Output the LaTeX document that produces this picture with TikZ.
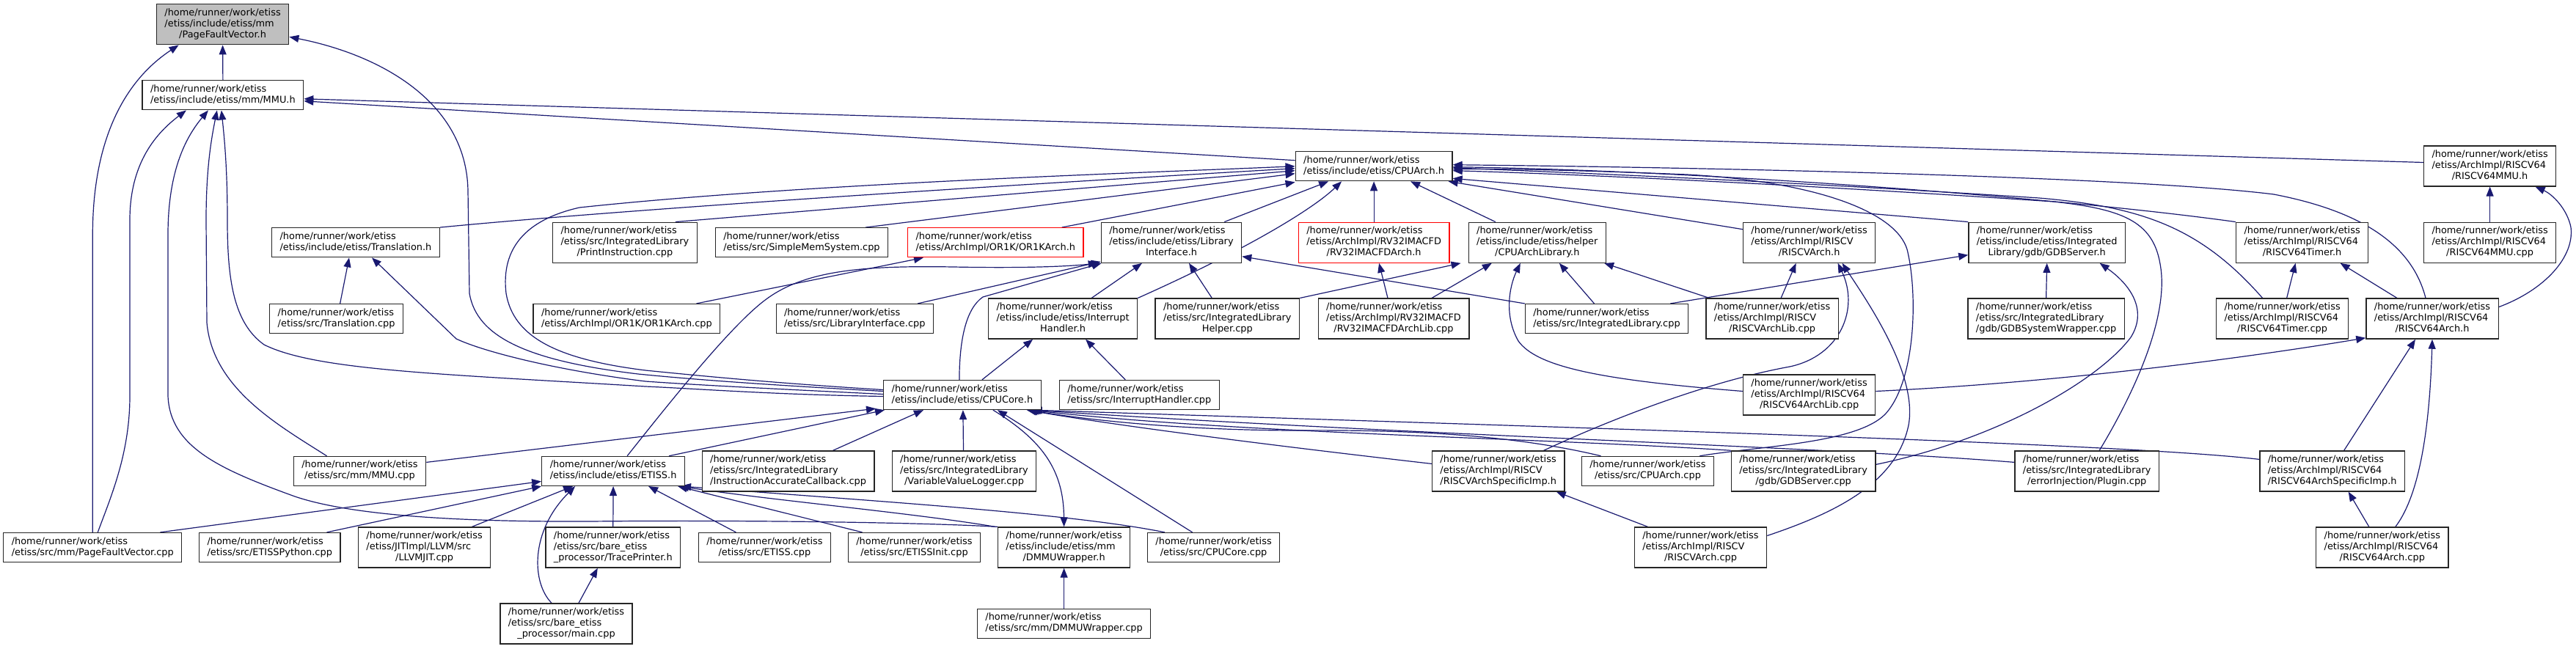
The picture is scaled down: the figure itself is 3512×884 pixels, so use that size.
\documentclass[tikz,border=0pt]{standalone}
\usepackage{fontspec}
\setmainfont{DejaVu Sans}
\usetikzlibrary{arrows.meta,backgrounds}
\definecolor{edgec}{HTML}{191970}
\definecolor{grayfill}{HTML}{BFBFBF}
\newcommand\hrw{/home/runner/work/etiss}
\newcommand\lbltwo[1]{\begin{tabular}{@{}l@{}}\hrw\\\multicolumn{1}{@{}c@{}}{#1}\end{tabular}}
\newcommand\lblthree[2]{\begin{tabular}{@{}l@{}}\hrw\\#1\\\multicolumn{1}{@{}c@{}}{#2}\end{tabular}}
\tikzset{
  box/.style={draw=black!85, line width=1.3pt, fill=white, inner xsep=11pt, inner ysep=5pt,
    font=\fontsize{12.9}{15}\selectfont},
  redbox/.style={box, draw=red},
  edge/.style={draw=edgec, line width=1.2pt, -{Triangle[length=13pt,width=10pt]}}
}
\begin{document}
\begin{tikzpicture}[x=1pt,y=-1pt]
\useasboundingbox (0,0) rectangle (3512,884);
% ---- nodes ----
\node[box,fill=grayfill] (PFVh) at (303.6,33.3) {\lblthree{/etiss/include/etiss/mm}{/PageFaultVector.h}};
\node[box] (MMUh) at (303.9,129.8) {\lbltwo{/etiss/include/etiss/mm/MMU.h}};
\node[box] (CPUArchh) at (1873.1,226.7) {\lbltwo{/etiss/include/etiss/CPUArch.h}};
\node[box] (R64MMUh) at (3394.6,226.5) {\lblthree{/etiss/ArchImpl/RISCV64}{/RISCV64MMU.h}};
% row 3
\node[box] (Transh) at (485,330.7) {\lbltwo{/etiss/include/etiss/Translation.h}};
\node[box] (PrintInst) at (851.9,330.7) {\lblthree{/etiss/src/IntegratedLibrary}{/PrintInstruction.cpp}};
\node[box] (SimpleMem) at (1093,330.7) {\lbltwo{/etiss/src/SimpleMemSystem.cpp}};
\node[redbox] (OR1Kh) at (1357.3,330.7) {\lbltwo{/etiss/ArchImpl/OR1K/OR1KArch.h}};
\node[box] (LibIfh) at (1597,330.7) {\lblthree{/etiss/include/etiss/Library}{Interface.h}};
\node[redbox] (RV32h) at (1873.1,330.7) {\lblthree{/etiss/ArchImpl/RV32IMACFD}{/RV32IMACFDArch.h}};
\node[box] (CALh) at (2095.8,330.7) {\lblthree{/etiss/include/etiss/helper}{/CPUArchLibrary.h}};
\node[box] (RVh) at (2466.6,330.7) {\lblthree{/etiss/ArchImpl/RISCV}{/RISCVArch.h}};
\node[box] (GDBh) at (2790.7,330.7) {\lblthree{/etiss/include/etiss/Integrated}{Library/gdb/GDBServer.h}};
\node[box] (R64Timerh) at (3138.6,330.7) {\lblthree{/etiss/ArchImpl/RISCV64}{/RISCV64Timer.h}};
\node[box] (R64MMUcpp) at (3394.6,330.7) {\lblthree{/etiss/ArchImpl/RISCV64}{/RISCV64MMU.cpp}};
% row 4
\node[box] (Transcpp) at (458.6,434.6) {\lbltwo{/etiss/src/Translation.cpp}};
\node[box] (OR1Kcpp) at (854.4,434.6) {\lbltwo{/etiss/ArchImpl/OR1K/OR1KArch.cpp}};
\node[box] (LibIfcpp) at (1165.3,434.6) {\lbltwo{/etiss/src/LibraryInterface.cpp}};
\node[box] (IHh) at (1449.1,434.6) {\lblthree{/etiss/include/etiss/Interrupt}{Handler.h}};
\node[box] (ILHelper) at (1673.3,434.6) {\lblthree{/etiss/src/IntegratedLibrary}{Helper.cpp}};
\node[box] (RV32Lib) at (1900,434.6) {\lblthree{/etiss/ArchImpl/RV32IMACFD}{/RV32IMACFDArchLib.cpp}};
\node[box] (ILcpp) at (2190.5,434.6) {\lbltwo{/etiss/src/IntegratedLibrary.cpp}};
\node[box] (RVLib) at (2416.1,434.6) {\lblthree{/etiss/ArchImpl/RISCV}{/RISCVArchLib.cpp}};
\node[box] (GDBSW) at (2789.6,434.6) {\lblthree{/etiss/src/IntegratedLibrary}{/gdb/GDBSystemWrapper.cpp}};
\node[box] (R64Timercpp) at (3111.6,434.6) {\lblthree{/etiss/ArchImpl/RISCV64}{/RISCV64Timer.cpp}};
\node[box] (R64Archh) at (3316,434.6) {\lblthree{/etiss/ArchImpl/RISCV64}{/RISCV64Arch.h}};
% row 5
\node[box] (CPUCoreh) at (1311.9,538.5) {\lbltwo{/etiss/include/etiss/CPUCore.h}};
\node[box] (IHcpp) at (1553.3,538.5) {\lbltwo{/etiss/src/InterruptHandler.cpp}};
\node[box] (R64Lib) at (2466.6,538.5) {\lblthree{/etiss/ArchImpl/RISCV64}{/RISCV64ArchLib.cpp}};
% row 6
\node[box] (MMUcpp) at (490.5,642.4) {\lbltwo{/etiss/src/mm/MMU.cpp}};
\node[box] (ETISSh) at (836.1,642.4) {\lbltwo{/etiss/include/etiss/ETISS.h}};
\node[box] (IACcpp) at (1074.6,642.4) {\lblthree{/etiss/src/IntegratedLibrary}{/InstructionAccurateCallback.cpp}};
\node[box] (VVLcpp) at (1314.5,642.4) {\lblthree{/etiss/src/IntegratedLibrary}{/VariableValueLogger.cpp}};
\node[box] (RVSIh) at (2042.7,642.4) {\lblthree{/etiss/ArchImpl/RISCV}{/RISCVArchSpecificImp.h}};
\node[box] (CPUArchcpp) at (2246.5,642.4) {\lbltwo{/etiss/src/CPUArch.cpp}};
\node[box] (GDBcpp) at (2458.6,642.4) {\lblthree{/etiss/src/IntegratedLibrary}{/gdb/GDBServer.cpp}};
\node[box] (Plugin) at (2845.2,642.4) {\lblthree{/etiss/src/IntegratedLibrary}{/errorInjection/Plugin.cpp}};
\node[box] (R64SIh) at (3179.7,642.4) {\lblthree{/etiss/ArchImpl/RISCV64}{/RISCV64ArchSpecificImp.h}};
% row 7
\node[box] (PFVcpp) at (126.3,746.5) {\lbltwo{/etiss/src/mm/PageFaultVector.cpp}};
\node[box] (ETISSPy) at (367.7,746.5) {\lbltwo{/etiss/src/ETISSPython.cpp}};
\node[box] (LLVMJIT) at (578.6,746.5) {\lblthree{/etiss/JITImpl/LLVM/src}{/LLVMJIT.cpp}};
\node[box] (TraceP) at (835.8,746.5) {\lblthree{/etiss/src/bare\_etiss}{\_processor/TracePrinter.h}};
\node[box] (ETISScpp) at (1042.4,746.5) {\lbltwo{/etiss/src/ETISS.cpp}};
\node[box] (ETISSInit) at (1246.5,746.5) {\lbltwo{/etiss/src/ETISSInit.cpp}};
\node[box] (DMMUh) at (1450.6,746.5) {\lblthree{/etiss/include/etiss/mm}{/DMMUWrapper.h}};
\node[box] (CPUCorecpp) at (1654.6,746.5) {\lbltwo{/etiss/src/CPUCore.cpp}};
\node[box] (RVArchcpp) at (2318.5,746.5) {\lblthree{/etiss/ArchImpl/RISCV}{/RISCVArch.cpp}};
\node[box] (R64Archcpp) at (3247.8,746.5) {\lblthree{/etiss/ArchImpl/RISCV64}{/RISCV64Arch.cpp}};
% row 8
\node[box] (maincpp) at (772,850.4) {\lblthree{/etiss/src/bare\_etiss}{\_processor/main.cpp}};
\node[box] (DMMUcpp) at (1450.6,850.4) {\lbltwo{/etiss/src/mm/DMMUWrapper.cpp}};
% ---- edges ----
\begin{pgfonlayer}{background}
\fill[white] (0,0) rectangle (3512,884);
% PageFaultVector.h
\draw[edge] (MMUh.north) -- (PFVh.south);
\draw[edge] (PFVcpp.north) -- (126.3,320) .. controls (126.3,190) and (170,110) .. ([xshift=-60pt]PFVh.south);
\draw[edge] ([yshift=5pt]CPUCoreh.west) .. controls (1050,525) and (950,518) .. (870,510) .. controls (720,492) and (650,460) .. (640,400) -- (638,260) .. controls (636,140) and (520,75) .. ([yshift=-17pt]PFVh.east);
% MMU.h
\draw[edge] ([xshift=7pt]PFVcpp.north) .. controls (150,680) and (177,620) .. (177,540) -- (177,300) .. controls (177,220) and (215,180) .. ([xshift=-50pt]MMUh.south);
\draw[edge] (DMMUh.north west) .. controls (1250,712) and (1000,709) .. (804,711) .. controls (600,712) and (470,700) .. (402,677) .. controls (300,640) and (232,610) .. (229,540) -- (229,320) .. controls (229,230) and (255,185) .. ([xshift=-20pt]MMUh.south);
\draw[edge] ([xshift=-45pt]MMUcpp.north) .. controls (380,580) and (290,530) .. (282,440) -- (281,300) .. controls (281,230) and (288,190) .. ([xshift=-8pt]MMUh.south);
\draw[edge] ([yshift=-2pt]CPUCoreh.west) .. controls (1050,538) and (950,530) .. (880,527) .. controls (600,510) and (430,505) .. (360,470) .. controls (318,440) and (310,380) .. (310,300) .. controls (310,230) and (306,190) .. ([xshift=-2pt]MMUh.south);
\draw[edge] ([yshift=5pt]R64MMUh.west) -- ([yshift=-5pt]MMUh.east);
\draw[edge] ([yshift=8pt]CPUArchh.west) -- ([yshift=-8pt]MMUh.east);
% CPUArch.h
\draw[edge] (Transh.north east) .. controls (900,281) and (1500,245) .. ([yshift=-3pt]CPUArchh.west);
\draw[edge] ([yshift=7pt]CPUCoreh.west) .. controls (1050,522) and (950,512) .. (880,505) .. controls (760,490) and (700,460) .. (690,400) .. controls (683,340) and (715,300) .. (790,283) .. controls (1100,250) and (1550,236) .. (CPUArchh.west);
\draw[edge] ([xshift=-30pt]PrintInst.north east) -- ([yshift=-6pt]CPUArchh.west);
\draw[edge] ([xshift=-31pt]SimpleMem.north east) -- ([yshift=-10pt]CPUArchh.west);
\draw[edge] ([xshift=-30pt]OR1Kh.north east) -- ([yshift=-1pt]CPUArchh.south west);
\draw[edge] ([xshift=-24pt]LibIfh.north east) -- ([xshift=-62pt]CPUArchh.south);
\draw[edge] (IHh.north east) .. controls (1700,340) and (1790,285) .. ([xshift=-44pt]CPUArchh.south);
\draw[edge] (RV32h.north) -- (CPUArchh.south);
\draw[edge] ([xshift=-57pt]CALh.north) -- ([xshift=50pt]CPUArchh.south);
\draw[edge] ([yshift=18pt]RVh.west) -- ([xshift=-6pt]CPUArchh.south east);
\draw[edge] (GDBh.north west) -- ([yshift=4pt]CPUArchh.south east);
\draw[edge] ([xshift=-20pt]CPUArchcpp.north east) .. controls (2400,608) and (2530,605) .. (2570,565) .. controls (2612,520) and (2615,400) .. (2600,340) .. controls (2585,290) and (2480,248) .. (2300,238) .. controls (2150,232) and (2050,230) .. ([yshift=-4pt]CPUArchh.east);
\draw[edge] (R64Timerh.north west) .. controls (2800,268) and (2300,232) .. ([yshift=-1pt]CPUArchh.east);
\draw[edge] ([xshift=-27pt]R64Timercpp.north) .. controls (3000,310) and (2920,282) .. (2780,270) .. controls (2400,245) and (2100,234) .. ([yshift=-2pt]CPUArchh.east);
\draw[edge] ([xshift=17pt]Plugin.north) .. controls (2895,560) and (2960,440) .. (2945,360) .. controls (2935,300) and (2890,285) .. (2800,275) .. controls (2400,248) and (2100,236) .. ([yshift=-6pt]CPUArchh.east);
\draw[edge] ([xshift=-9pt]R64Archh.north) .. controls (3290,340) and (3230,290) .. (3100,265) .. controls (2900,240) and (2300,228) .. ([yshift=2pt]CPUArchh.east);
% LibraryInterface.h
\draw[edge] ([xshift=19pt]ETISSh.north) .. controls (920,540) and (1000,440) .. (1046,407) .. controls (1100,368) and (1180,362) .. (1300,364) .. controls (1400,366) and (1460,363) .. ([xshift=-4pt]LibIfh.south west);
\draw[edge] ([xshift=-22pt]LibIfcpp.north east) -- ([yshift=2pt]LibIfh.south west);
\draw[edge] ([xshift=-4pt]CPUCoreh.north) .. controls (1308,460) and (1318,420) .. (1340,405) -- ([xshift=1pt]LibIfh.south west);
\draw[edge] ([xshift=39pt]IHh.north) -- ([xshift=-40pt]LibIfh.south);
\draw[edge] ([xshift=-21pt]ILHelper.north) -- ([xshift=24pt]LibIfh.south);
\draw[edge] (ILcpp.north west) -- ([yshift=-19pt]LibIfh.east);
% OR1KArch.h
\draw[edge] ([xshift=-33pt]OR1Kcpp.north east) -- ([xshift=22pt]OR1Kh.south west);
% CPUArchLibrary.h
\draw[edge] (ILHelper.north east) -- ([xshift=-10pt]CALh.south west);
\draw[edge] ([xshift=52pt]RV32Lib.north) -- ([xshift=-62pt]CALh.south);
\draw[edge] ([xshift=-8pt]RV32Lib.north) -- ([xshift=7pt]RV32h.south);
\draw[edge] ([xshift=-17pt]ILcpp.north) -- ([xshift=30pt]CALh.south);
\draw[edge] ([xshift=5pt]RVLib.north west) -- ([xshift=-3pt]CALh.south east);
\draw[edge] ([yshift=5pt]R64Lib.west) .. controls (2180,518) and (2095,500) .. (2070,465) .. controls (2050,430) and (2058,390) .. ([xshift=-23pt]CALh.south);
% RISCVArch.h
\draw[edge] ([xshift=12pt]RVLib.north) -- ([xshift=-18pt]RVh.south);
\draw[edge] ([xshift=62pt]RVSIh.north) .. controls (2200,570) and (2330,520) .. (2440,500) .. controls (2510,485) and (2535,420) .. ([xshift=39pt]RVh.south);
\draw[edge] ([yshift=16pt]RVArchcpp.east) .. controls (2500,700) and (2585,660) .. (2602,580) .. controls (2615,510) and (2545,410) .. ([xshift=45pt]RVh.south);
\draw[edge] ([xshift=-72pt]RVArchcpp.north) -- ([xshift=79pt]RVSIh.south);
% GDBServer.h
\draw[edge] (GDBSW.north) -- (GDBh.south);
\draw[edge] ([yshift=9pt]GDBcpp.east) .. controls (2720,600) and (2860,520) .. (2905,460) .. controls (2930,420) and (2900,385) .. ([xshift=72pt]GDBh.south);
\draw[edge] ([xshift=-25pt]ILcpp.north east) -- ([yshift=-17pt]GDBh.west);
% RISCV64Timer.h / RISCV64MMU.h / RISCV64Arch.h
\draw[edge] ([xshift=6pt]R64Timercpp.north) -- ([xshift=-9pt]R64Timerh.south);
\draw[edge] ([xshift=-48pt]R64Archh.north) -- ([xshift=52pt]R64Timerh.south);
\draw[edge] (R64MMUcpp.north) -- (R64MMUh.south);
\draw[edge] ([yshift=16pt]R64Archh.east) .. controls (3470,395) and (3510,350) .. (3505,310) .. controls (3500,285) and (3480,265) .. ([xshift=62pt]R64MMUh.south);
\draw[edge] ([yshift=5pt]R64Lib.east) .. controls (2800,522) and (3050,490) .. ([yshift=2pt]R64Archh.south west);
\draw[edge] ([xshift=16pt]R64SIh.north) -- ([xshift=-23pt]R64Archh.south);
\draw[edge] ([xshift=18pt]R64Archcpp.north) .. controls (3295,680) and (3312,600) .. (R64Archh.south);
\draw[edge] ([xshift=-18pt]R64Archcpp.north) -- ([xshift=22pt]R64SIh.south);
% InterruptHandler.h / Translation.h
\draw[edge] ([xshift=27pt]CPUCoreh.north) -- ([xshift=-41pt]IHh.south);
\draw[edge] ([xshift=-19pt]IHcpp.north) -- ([xshift=31pt]IHh.south);
\draw[edge] ([xshift=5pt]Transcpp.north) -- ([xshift=-9pt]Transh.south);
\draw[edge] ([yshift=1pt]CPUCoreh.west) .. controls (1050,530) and (950,525) .. (880,520) .. controls (760,505) and (660,480) .. (622,462) -- ([xshift=22pt]Transh.south);
% CPUCore.h
\draw[edge] ([yshift=12pt]MMUcpp.east) -- ([xshift=-10pt,yshift=2pt]CPUCoreh.south west);
\draw[edge] ([xshift=-22pt]ETISSh.north east) -- ([xshift=2pt]CPUCoreh.south west);
\draw[edge] ([xshift=61pt]IACcpp.north) -- ([xshift=-53pt]CPUCoreh.south);
\draw[edge] ([xshift=-1pt]VVLcpp.north) -- ([xshift=1pt]CPUCoreh.south);
\draw[edge] ([xshift=-29pt]CPUCorecpp.north) -- ([xshift=48pt]CPUCoreh.south);
\draw[edge] ([xshift=42pt]CPUCoreh.south) .. controls (1420,600) and (1450,640) .. (DMMUh.north);
\draw[edge] ([yshift=10pt]RVSIh.west) .. controls (1800,615) and (1550,585) .. ([xshift=-20pt]CPUCoreh.south east);
\draw[edge] ([xshift=-64pt]CPUArchcpp.north) .. controls (2050,590) and (1900,586) .. (1760,587) .. controls (1600,586) and (1480,572) .. ([xshift=-18pt]CPUCoreh.south east);
\draw[edge] (GDBcpp.north west) .. controls (2100,597) and (1700,592) .. ([xshift=-16pt]CPUCoreh.south east);
\draw[edge] ([yshift=12pt]Plugin.west) .. controls (2500,610) and (1900,592) .. ([xshift=-14pt]CPUCoreh.south east);
\draw[edge] ([yshift=16pt]R64SIh.west) .. controls (2900,605) and (2200,585) .. ([xshift=-12pt]CPUCoreh.south east);
% ETISS.h
\draw[edge] ([xshift=-30pt]PFVcpp.north east) -- ([yshift=-14pt]ETISSh.west);
\draw[edge] ([xshift=-19pt]ETISSPy.north east) -- (ETISSh.south west);
\draw[edge] ([xshift=-26pt]LLVMJIT.north east) -- ([xshift=-55pt]ETISSh.south);
\draw[edge] ([xshift=-20pt]maincpp.north) .. controls (725,795) and (722,725) .. ([xshift=-52pt]ETISSh.south);
\draw[edge] (TraceP.north) -- (ETISSh.south);
\draw[edge] ([xshift=17pt]maincpp.north) -- ([xshift=-21pt]TraceP.south);
\draw[edge] ([xshift=-39pt]ETISScpp.north) -- ([xshift=-50pt]ETISSh.south east);
\draw[edge] ([xshift=-71pt]ETISSInit.north) -- ([xshift=-10pt]ETISSh.south east);
\draw[edge] ([xshift=-3pt]DMMUh.north west) .. controls (1250,700) and (1050,682) .. ([xshift=-8pt]ETISSh.south east);
\draw[edge] ([xshift=24pt]CPUCorecpp.north west) .. controls (1460,700) and (1200,684) .. ([xshift=-5pt]ETISSh.south east);
% DMMUWrapper.h
\draw[edge] (DMMUcpp.north) -- (DMMUh.south);
\end{pgfonlayer}
\end{tikzpicture}
\end{document}
